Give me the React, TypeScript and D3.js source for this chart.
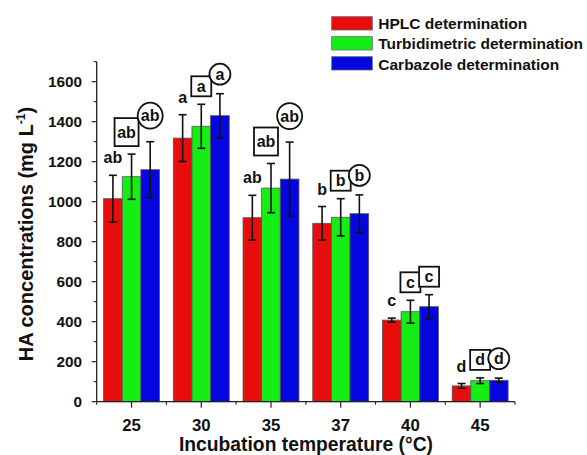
import React from 'react';
import * as d3 from 'd3';

const temps = ['25', '30', '35', '37', '40', '45'];
const hplc = [1015, 1318, 920, 892, 408, 79];
const hplcErr = [117, 117, 112, 84, 10, 12];
const turb = [1125, 1377, 1068, 922, 450, 105];
const turbErr = [113, 110, 123, 93, 57, 14];
const carb = [1160, 1430, 1113, 940, 475, 107];
const carbErr = [140, 110, 185, 94, 60, 11];
const hplcLetters = ['ab', 'a', 'ab', 'b', 'c', 'd'];
const turbLetters = ['ab', 'a', 'ab', 'b', 'c', 'd'];
const carbLetters = ['ab', 'a', 'ab', 'b', 'c', 'd'];
const hplcFrame = ['none', 'none', 'none', 'none', 'none', 'none'];
const turbFrame = ['box', 'box', 'box', 'box', 'box', 'box'];
const carbFrame = ['circle', 'circle', 'circle', 'circle', 'box', 'circle'];
const seriesNames = ['HPLC determination', 'Turbidimetric determination', 'Carbazole determination'];
const yTicks = [0, 200, 400, 600, 800, 1000, 1200, 1400, 1600];

const W = 587, H = 455;
const colors = ['#e80d0d', '#14ee14', '#0505e0'];
const FONT = 'Arial, "Liberation Sans", sans-serif';

export default function App() {
  const series = [
    { name: seriesNames[0], vals: hplc, errs: hplcErr, letters: hplcLetters, frames: hplcFrame },
    { name: seriesNames[1], vals: turb, errs: turbErr, letters: turbLetters, frames: turbFrame },
    { name: seriesNames[2], vals: carb, errs: carbErr, letters: carbLetters, frames: carbFrame },
  ];
  const x = d3.scaleBand<string>().domain(temps).range([96.7, 515]).padding(0);
  const inner = d3.scaleBand<number>().domain([0, 1, 2]).range([0, x.bandwidth()]).paddingInner(0).paddingOuter(0.37);
  const y = d3.scaleLinear().domain([0, 1700]).range([401.7, 61.7]);
  const minorY = d3.range(100, 1701, 200);
  const axisColor = '#222';

  // label layout: distance of label centre above the error-bar top
  const offsetFor = (frame: string, two: boolean) => {
    if (frame === 'box') return two ? 22 : 18;
    if (frame === 'circle') return two ? 26 : 19.5;
    return 17.5;
  };

  return (
    <svg width={W} height={H} style={{ position: 'absolute', left: 0, top: 0, background: '#fff' }} fontFamily={FONT}>
      {/* bars */}
      {series.map((s, si) =>
        temps.map((t, gi) => {
          const bx = (x(t) as number) + (inner(si) as number);
          const bw = inner.bandwidth();
          return (
            <rect key={`b${si}-${gi}`} x={bx} y={y(s.vals[gi])} width={bw} height={y(0) - y(s.vals[gi])}
              fill={colors[si]} stroke="#555" strokeWidth={0.8} />
          );
        })
      )}
      {/* error bars */}
      {series.map((s, si) =>
        temps.map((t, gi) => {
          const cx = (x(t) as number) + (inner(si) as number) + inner.bandwidth() / 2;
          const top = y(s.vals[gi] + s.errs[gi]);
          const bot = y(s.vals[gi] - s.errs[gi]);
          return (
            <g key={`e${si}-${gi}`} stroke="#111" strokeWidth={1.6}>
              <line x1={cx} x2={cx} y1={top} y2={bot} />
              <line x1={cx - 4} x2={cx + 4} y1={top} y2={top} />
              <line x1={cx - 4} x2={cx + 4} y1={bot} y2={bot} />
            </g>
          );
        })
      )}
      {/* letters */}
      {series.map((s, si) =>
        temps.map((t, gi) => {
          const frame = s.frames[gi];
          const txt = s.letters[gi];
          const two = txt.length > 1;
          const cx = (x(t) as number) + (inner(si) as number) + inner.bandwidth() / 2 - (frame === 'box' && two ? 5 : 0);
          const cy = y(s.vals[gi] + s.errs[gi]) - offsetFor(frame, two);
          return (
            <g key={`l${si}-${gi}`}>
              {frame === 'box' && (
                <rect x={cx - (two ? 12 : 10)} y={cy - (two ? 14 : 10)} width={two ? 24 : 20} height={two ? 28 : 20}
                  fill="#fff" stroke="#111" strokeWidth={1.8} />
              )}
              {frame === 'circle' && (
                <ellipse cx={cx} cy={cy} rx={two ? 12.5 : 10.5} ry={two ? 13 : 10.5} fill="#fff" stroke="#111" strokeWidth={1.8} />
              )}
              <text x={cx} y={cy + 5.5} textAnchor="middle" fontWeight="bold" fontSize={16} fill="#111">{txt}</text>
            </g>
          );
        })
      )}
      {/* y axis */}
      <line x1={96.7} x2={96.7} y1={y(1700)} y2={y(0)} stroke={axisColor} strokeWidth={1.3} />
      {yTicks.map((v) => (
        <g key={`yt${v}`}>
          <line x1={96.7 - 5} x2={96.7} y1={y(v)} y2={y(v)} stroke={axisColor} strokeWidth={1.2} />
          <text x={82} y={y(v) + 5.4} textAnchor="end" fontWeight="bold" fontSize={15.3} fill="#111">{v}</text>
        </g>
      ))}
      {minorY.map((v) => (
        <line key={`ym${v}`} x1={96.7 - 3} x2={96.7} y1={y(v)} y2={y(v)} stroke={axisColor} strokeWidth={1.1} />
      ))}
      {/* x axis */}
      <line x1={96.7} x2={515} y1={y(0)} y2={y(0)} stroke={axisColor} strokeWidth={1.3} />
      {temps.map((t) => {
        const cx = (x(t) as number) + x.bandwidth() / 2;
        return (
          <g key={`xt${t}`}>
            <line x1={cx} x2={cx} y1={y(0)} y2={y(0) + 6} stroke={axisColor} strokeWidth={1.2} />
            <line x1={x(t) as number} x2={x(t) as number} y1={y(0)} y2={y(0) + 3} stroke={axisColor} strokeWidth={1.1} />
            <text x={cx} y={431} textAnchor="middle" fontWeight="bold" fontSize={16.8} fill="#111">{t}</text>
          </g>
        );
      })}
      <line x1={515} x2={515} y1={y(0)} y2={y(0) + 3} stroke={axisColor} strokeWidth={1.1} />
      {/* axis titles */}
      <text x={306} y={450.5} textAnchor="middle" fontWeight="bold" fontSize={19.3} fill="#111">Incubation temperature (°C)</text>
      <text transform="translate(33,234) rotate(-90)" textAnchor="middle" fontWeight="bold" fontSize={20} fill="#111">
        HA concentrations (mg L<tspan fontSize={12} dy={-8}>-1</tspan><tspan dy={8}>)</tspan>
      </text>
      {/* legend */}
      {series.map((s, si) => (
        <g key={`lg${si}`}>
          <rect x={331.7} y={16.7 + si * 20} width={40.6} height={13.3} fill={colors[si]} stroke="#666" strokeWidth={0.8} />
          <text x={378.3} y={23.3 + si * 20.5 + 5.5} fontWeight="bold" fontSize={15.5} fill="#111">{s.name}</text>
        </g>
      ))}
    </svg>
  );
}
